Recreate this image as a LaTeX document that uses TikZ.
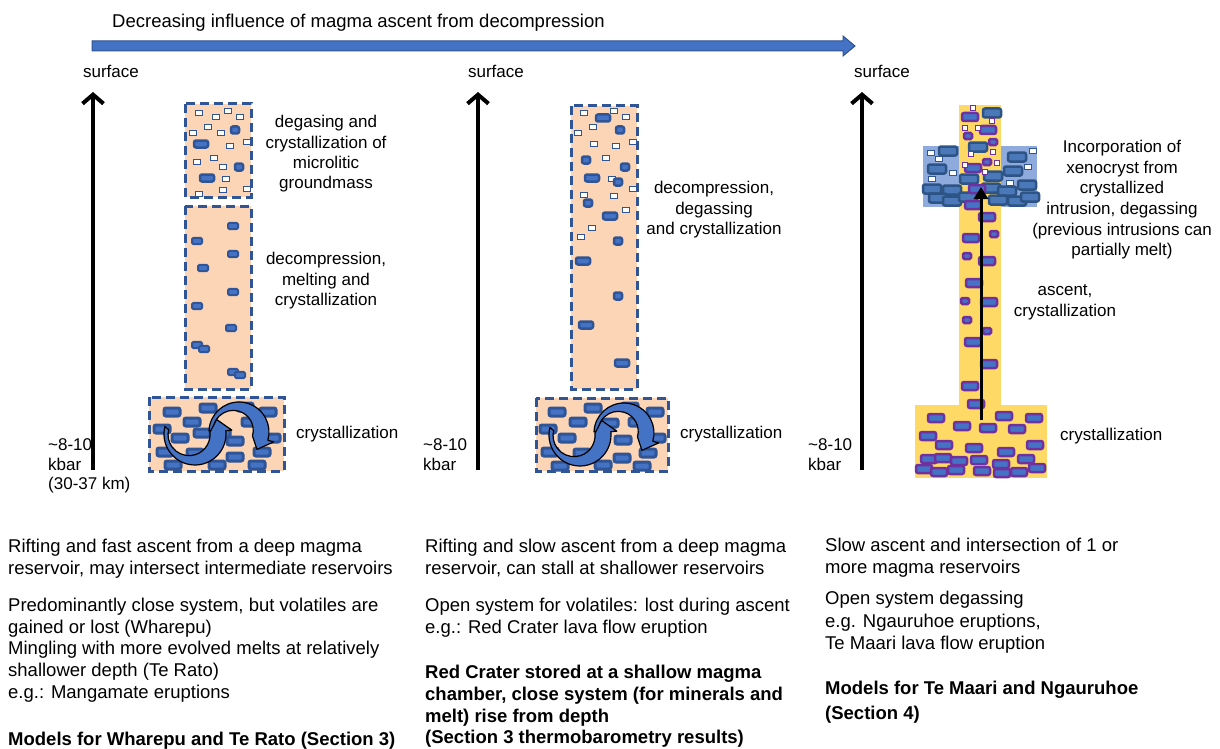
\documentclass[tikz,border=0pt]{standalone}
\usepackage{fontspec}
\setmainfont{Liberation Sans}
\usetikzlibrary{arrows.meta,calc}

\definecolor{peach}{HTML}{FBD5B5}
\definecolor{navy}{HTML}{2F5597}
\definecolor{midblue}{HTML}{4472C4}
\definecolor{arrowedge}{HTML}{2F528F}
\definecolor{magma}{HTML}{FFD966}
\definecolor{intrusion}{HTML}{8FAADC}
\definecolor{purp}{HTML}{7030A0}
\definecolor{darkxtal}{HTML}{2E5385}
\definecolor{xtalfill}{HTML}{4A78B8}

\newcommand\bstrut{\rule{0pt}{16pt}}
\newcommand\lstrut{\rule{0pt}{15pt}}

\tikzset{
  lab/.style={font=\fontsize{17}{20.3}\selectfont, inner sep=0pt, align=center, anchor=north},
  labl/.style={font=\fontsize{17}{19.5}\selectfont, inner sep=0pt, align=left, anchor=north west},
  body/.style={font=\fontsize{18.5}{21.6}\selectfont, inner sep=0pt, align=left, anchor=north west},
  boldbody/.style={font=\fontsize{18.5}{21.7}\selectfont\bfseries, inner sep=0pt, align=left, anchor=north west},
  dashbox/.style={fill=peach, draw=navy, line width=3pt, dash pattern=on 9pt off 5pt},
  deptharrow/.style={line width=4pt, -{Straight Barb[length=9pt, width=21pt]}},
  cyclearrow/.style={fill=midblue, draw=black, line width=1.2pt, line join=round},
  % crystal glyphs
  xtal/.pic={\draw[navy, fill=midblue, line width=3pt, rounded corners=2pt] (-8,-4) rectangle (8,4);},
  blob/.pic={\draw[navy, fill=midblue, line width=2pt, rounded corners=1.5pt] (-5,-3.2) rectangle (5,3.2);},
  dblob/.pic={\draw[navy, fill=midblue, line width=2.5pt, rounded corners=2pt] (-4,-3.5) rectangle (4,3.5);},
  dblobw/.pic={\draw[navy, fill=midblue, line width=2.5pt, rounded corners=2pt] (-7,-3.5) rectangle (7,3.5);},
  micro/.pic={\draw[navy, fill=white, line width=1.5pt] (-3.4,-2.6) rectangle (3.4,2.6);},
  pxtal/.pic={\draw[purp, fill=midblue, line width=2.5pt, rounded corners=2pt] (-8,-4) rectangle (8,4);},
  psmall/.pic={\draw[purp, fill=midblue, line width=2.5pt, rounded corners=1.5pt] (-4,-3) rectangle (4,3);},
  pmicro/.pic={\draw[purp, fill=white, line width=1.5pt] (-2.6,-2.6) rectangle (2.6,2.6);},
  ixtal/.pic={\draw[darkxtal, fill=xtalfill, line width=2.5pt, rounded corners=2pt] (-9,-4.5) rectangle (9,4.5);},
}

% two interlocking circular arrows in a magma chamber
\newcommand\chambercycle{%
  \begin{scope}[shift={(239,432)}]
    \filldraw[cyclearrow] (182:30) arc[start angle=182, end angle=376, radius=30]
      -- (376:36) -- (404:25) -- (376:14)
      arc[start angle=376, end angle=182, radius=20] -- cycle;
  \end{scope}
  \begin{scope}[shift={(195,434)}]
    \filldraw[cyclearrow] (194:31) arc[start angle=194, end angle=-6, radius=31]
      -- (-6:37) -- (-34:26) -- (-6:15)
      arc[start angle=-6, end angle=194, radius=21] -- cycle;
  \end{scope}}

\begin{document}
\begin{tikzpicture}[x=1pt, y=-1pt]
\useasboundingbox (0,0) rectangle (1220,749);

% ---------- trend arrow ----------
\coordinate (trendS) at (92,46);
\coordinate (trendE) at (855,46);
\filldraw[fill=midblue, draw=arrowedge, line width=1pt]
  ($(trendS)+(0,-5)$) -- ($(trendE)+(-12,-5)$) -- ($(trendE)+(-12,-10)$) -- (trendE)
  -- ($(trendE)+(-12,10)$) -- ($(trendE)+(-12,5)$) -- ($(trendS)+(0,5)$) -- cycle;
\node[font=\fontsize{18.5}{21.6}\selectfont, inner sep=0pt, anchor=base west] (trend) at (112,27.5)
  {Decreasing influence of magma ascent from decompression};

% ---------- depth axes ----------
\foreach \n/\ax/\sx in {1/93/111, 2/478/496, 3/862/882}{
  \coordinate (deep\n) at (\ax,470);
  \coordinate (top\n) at (\ax,92);
  \draw[deptharrow] (deep\n) -- (top\n);
  \node[font=\fontsize{17}{20}\selectfont, inner sep=0pt, anchor=base] (surf\n) at (\sx,77.5) {surface};
}
\node[labl] (kbar1) at (48,435.5) {\lstrut\textasciitilde8-10\\kbar\\(30-37 km)};
\node[labl] (kbar2) at (423,435.5) {\lstrut\textasciitilde8-10\\kbar};
\node[labl] (kbar3) at (808,435.5) {\lstrut\textasciitilde8-10\\kbar};

% ---------- column 1: fast ascent ----------
\draw[dashbox] (185,104) rectangle (251,197);
\draw[dashbox] (185,206) rectangle (251,389);
\draw[dashbox] (149,397) rectangle (284,471);
\foreach \p in {(199,113),(216,117),(228,111),(240,117),(208,127),(193,133),(221,133),(247,142),
  (230,146),(197,162),(214,158),(223,167),(226,179),(223,190),(247,189),(199,194)}
  \pic at \p {micro};
\foreach \p in {(235,130),(239,167)} \pic at \p {dblob};
\foreach \p in {(201,144),(207,178)} \pic at \p {dblobw};
\foreach \p in {(233,226),(197,241),(233,254),(203,268),(233,292),(197,306),(231,328),
  (197,345),(204,349),(233,372),(240,375)}
  \pic at \p {blob};
\foreach \p in {(172,412),(208,408),(245,407),(268,412),(192,422),(250,422),(162,429),(180,438),
  (202,433),(222,433),(235,441),(272,438),(165,452),(195,453),(235,457),(262,452),
  (173,465),(217,465),(257,465)}
  \pic at \p {xtal};
\chambercycle

\node[lab] (c1top) at (326,112.5) {\lstrut degasing and\\crystallization of\\microlitic\\groundmass};
\node[lab] (c1mid) at (326,249.5) {\lstrut decompression,\\melting and\\crystallization};
\node[labl] (c1bot) at (296,423.5) {\lstrut crystallization};

% ---------- column 2: slow ascent ----------
\draw[dashbox] (571,106) rectangle (637,389);
\draw[dashbox] (536,398) rectangle (668,471);
\foreach \p in {(584,113),(614,111),(626,117),(593,127),(578,133),(594,144),(616,146),(633,142),
  (606,158),(612,179),(614,196),(584,195),(633,189),(626,210),(592,228),(581,237)}
  \pic at \p {micro};
\foreach \p in {(620,130),(586,160),(625,167),(618,182),(588,203),(618,241),(618,296)}
  \pic at \p {dblob};
\foreach \p in {(603,118),(592,178),(610,216),(583,261),(586,325),(622,363)}
  \pic at \p {dblobw};
\foreach \p in {(557,412),(593,408),(630,407),(655,412),(578,422),(637,422),(548,429),(567,438),
  (610,423),(623,440),(657,438),(550,452),(582,453),(622,458),(648,453),(560,466),
  (603,465),(642,466)}
  \pic at \p {xtal};
\begin{scope}[shift={(385,1)}]
  \chambercycle
\end{scope}

\node[lab] (c2mid) at (714,178.5) {\lstrut decompression,\\degassing\\and crystallization};
\node[labl] (c2bot) at (680,423.5) {\lstrut crystallization};

% ---------- column 3: stalled intrusions ----------
\fill[intrusion] (923,146) rectangle (1037,207);
\foreach \p in {(931,153),(939,159),(953,173),(932,179),(1028,167),(1033,151),(1010,183)}
  \pic at \p {micro};
\foreach \p in {(948,151),(937,169),(1017,157),(1013,171),(1027,185)}
  \pic at \p {ixtal};
\fill[magma] (959,105) rectangle (1001,405);
\fill[magma] (915,405) rectangle (1047,478);
\foreach \p in {(932,189),(952,190),(938,198),(952,201),(968,197),(991,188),(1007,191),
  (998,200),(1017,201),(1030,197),(992,113),(978,147),(993,176),(969,179)}
  \pic at \p {ixtal};
\foreach \p in {(970,117),(988,130),(973,168),(977,189),
  (973,205),(987,217),(971,238),(987,261),(974,283),(989,302),(973,342),(989,364),(970,386),(976,404),
  (936,418),(962,426),(988,428),(1004,416),(1017,429),(1034,418),(928,436),(944,445),(974,448),
  (1006,452),(1035,445),(929,459),(943,458),(959,461),(979,460),(1001,464),(1026,459),
  (924,469),(939,472),(956,470),(982,471),(1002,473),(1019,472),(1037,468)}
  \pic at \p {pxtal};
\foreach \p in {(968,136),(993,142),(987,162),(994,234),(967,256),(965,301),(967,320),(987,331)}
  \pic at \p {psmall};
\foreach \p in {(973,108),(992,121),(978,128),(965,128),(971,154),(993,152),(997,163),(965,165),(985,172)}
  \pic at \p {pmicro};
\coordinate (rise3b) at (981,420);
\coordinate (rise3t) at (981,187);
\draw[line width=3pt, -{Triangle[length=12pt, width=14pt]}] (rise3b) -- (rise3t);

\node[lab, font=\fontsize{17}{20.6}\selectfont] (c3top) at (1122,137.5)
  {\lstrut Incorporation of\\xenocryst from\\crystallized\\intrusion, degassing\\(previous intrusions can\\partially melt)};
\node[lab] (c3mid) at (1065,280.5) {\lstrut ascent,\\crystallization};
\node[labl] (c3bot) at (1060,425.5) {\lstrut crystallization};

% ---------- descriptions ----------
\node[body] (d1a) at (8,536.5) {\bstrut Rifting and fast ascent from a deep magma\\reservoir, may intersect intermediate reservoirs};
\node[body] (d1b) at (8,595.5) {\bstrut Predominantly close system, but volatiles are\\gained or lost (Wharepu)\\Mingling with more evolved melts at relatively\\shallower depth (Te Rato)\\e.g.: Mangamate eruptions};
\node[boldbody] (d1c) at (8,729.5) {\bstrut Models for Wharepu and Te Rato (Section 3)};

\node[body] (d2a) at (425,536.5) {\bstrut Rifting and slow ascent from a deep magma\\reservoir, can stall at shallower reservoirs};
\node[body] (d2b) at (425,595.5) {\bstrut Open system for volatiles: lost during ascent\\e.g.: Red Crater lava flow eruption};
\node[boldbody] (d2c) at (425,662.5) {\bstrut Red Crater stored at a shallow magma\\chamber, close system (for minerals and\\melt) rise from depth\\(Section 3 thermobarometry results)};

\node[body] (d3a) at (825,535.5) {\bstrut Slow ascent and intersection of 1 or\\more magma reservoirs};
\node[body, font=\fontsize{18.5}{22.5}\selectfont] (d3b) at (825,588.5) {\bstrut Open system degassing\\e.g. Ngauruhoe eruptions,\\Te Maari lava flow eruption};
\node[boldbody, font=\fontsize{18.5}{25}\selectfont\bfseries] (d3c) at (825,678.5) {\bstrut Models for Te Maari and Ngauruhoe\\(Section 4)};
\end{tikzpicture}
\end{document}
